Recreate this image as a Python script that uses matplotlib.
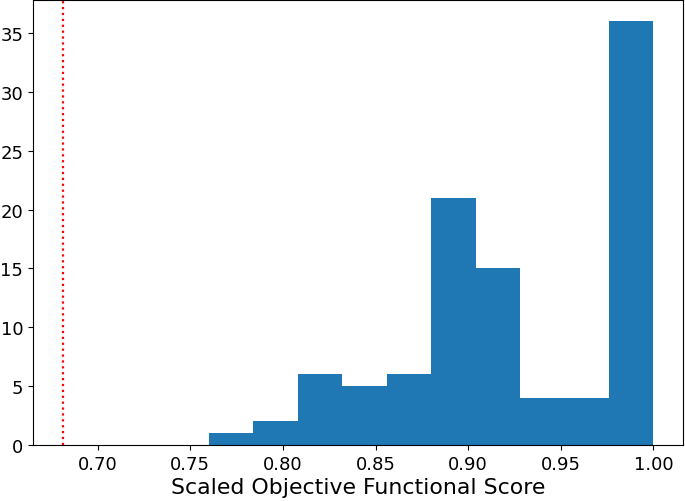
import matplotlib
matplotlib.use("Agg")
import matplotlib.pyplot as plt
import numpy as np

bin_edges = np.linspace(0.76, 1.00, 11)
counts = [1, 2, 6, 5, 6, 21, 15, 4, 4, 36]
threshold = 0.681
xlabel = "Scaled Objective Functional Score"

fig = plt.figure(figsize=(6.85, 5.02), dpi=100)
ax = fig.add_axes([33/685, 56/502, 650/685, 445/502])
centers = (bin_edges[:-1] + bin_edges[1:]) / 2
ax.hist(centers, bins=bin_edges, weights=counts, color="#1f77b4")
ax.axvline(threshold, color="red", linestyle=":", linewidth=1.6)
ax.set_xticks([0.70, 0.75, 0.80, 0.85, 0.90, 0.95, 1.00])
ax.set_xticklabels(["0.70", "0.75", "0.80", "0.85", "0.90", "0.95", "1.00"])
ax.tick_params(labelsize=13)
ax.set_xlabel(xlabel, fontsize=15.8, labelpad=3)
fig.savefig("out.png", dpi=100)
